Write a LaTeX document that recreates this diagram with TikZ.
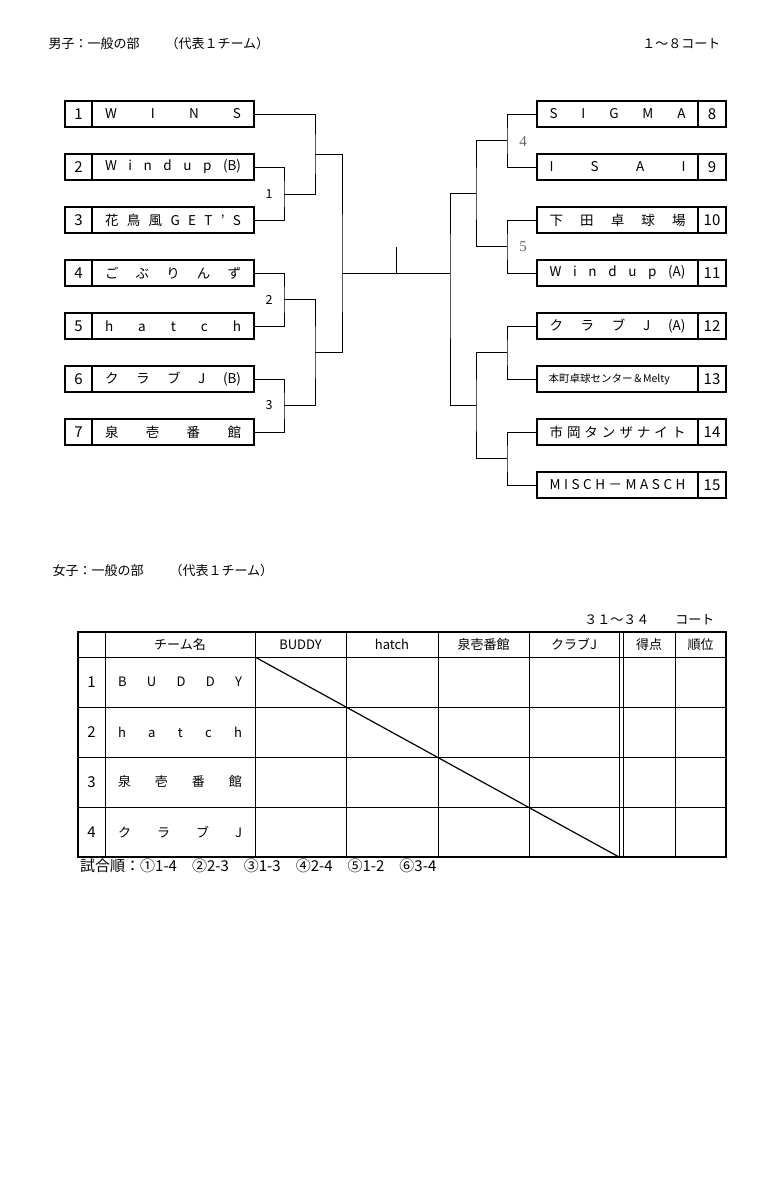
\documentclass[tikz,border=0pt]{standalone}
\usepackage{fontspec}
\setmainfont{Noto Sans CJK JP}
\newfontfamily\serifnum{Liberation Serif}
\newcommand\spr[2][136pt]{\makebox[#1][s]{#2}}
\begin{document}
\begin{tikzpicture}[x=1pt,y=-1pt,
  box/.style={draw,line width=1.2pt,minimum height=26pt,inner sep=0pt,font=\fontsize{13.5}{14}\selectfont},
  num/.style={box,minimum width=27pt,font=\fontsize{15}{15}\selectfont},
  nam/.style={box,minimum width=162pt},
  ln/.style={line width=1pt},
  lab/.style={font=\fontsize{12.5}{12.5}\selectfont},
  gl/.style={text=black!60,font=\serifnum\fontsize{15}{15}\selectfont},
  tl/.style={line width=1pt},
  tx/.style={font=\fontsize{13}{14}\selectfont}]
\useasboundingbox[fill=white] (0,0) rectangle (776,1200);
% titles
\node[tx,anchor=west] (t1) at (45,44) {男子：一般の部　　（代表１チーム）};
\node[tx,anchor=east] (t2) at (724,44) {１～８コート};
\node[tx,anchor=west] (t3) at (49,571) {女子：一般の部　　（代表１チーム）};
% left boxes
\foreach \i/\t [count=\k from 0] in {1/{\spr{W\hfill I\hfill N\hfill S}},2/{\spr{W\hfill i\hfill n\hfill d\hfill u\hfill p\hfill (B)}},3/{\spr{花\hfill 鳥\hfill 風\hfill G\hfill E\hfill T\hfill ’\hfill S}},4/{\spr{ご\hfill ぶ\hfill り\hfill ん\hfill ず}},5/{\spr{h\hfill a\hfill t\hfill c\hfill h}},6/{\spr{ク\hfill ラ\hfill ブ\hfill J\hfill (B)}},7/{\spr{泉\hfill 壱\hfill 番\hfill 館}}}{
  \node[num] (n\i) at (78.5,114+53*\k) {\i};
  \node[nam] (L\i) at (173,114+53*\k) {\t};
}
% right boxes
\foreach \i/\t [count=\k from 0] in {8/{\spr{S\hfill I\hfill G\hfill M\hfill A}},9/{\spr{I\hfill S\hfill A\hfill I}},10/{\spr{下\hfill 田\hfill 卓\hfill 球\hfill 場}},11/{\spr{W\hfill i\hfill n\hfill d\hfill u\hfill p\hfill (A)}},12/{\spr{ク\hfill ラ\hfill ブ\hfill J\hfill (A)}},13/{\makebox[138pt][l]{\fontsize{10.5}{10.5}\selectfont 本町卓球センター＆Melty}},14/{\spr{市\hfill 岡\hfill タ\hfill ン\hfill ザ\hfill ナ\hfill イ\hfill ト}},15/{\spr{M\hfill I\hfill S\hfill C\hfill H\hfill －\hfill M\hfill A\hfill S\hfill C\hfill H}}}{
  \node[nam,minimum width=161pt] (R\i) at (617.5,114+53*\k) {\t};
  \node[num,minimum width=28pt] (m\i) at (712,114+53*\k) {\i};
}
% left bracket
\coordinate (a1) at (284,194); \coordinate (a2) at (284,299.5); \coordinate (a3) at (284,405.5);
\coordinate (b1) at (315,154); \coordinate (b2) at (315,352.5);
\coordinate (cL) at (342,273); \coordinate (cR) at (450,273);
\draw[ln] (L2.east) -| (a1) |- (L3.east);
\draw[ln] (L4.east) -| (a2) |- (L5.east);
\draw[ln] (L6.east) -| (a3) |- (L7.east);
\draw[ln] (L1.east) -| (b1) |- (a1);
\draw[ln] (a2) -| (b2) |- (a3);
\draw[ln] (b1) -| (cL) |- (b2);
\draw[ln] (cL) -- (cR);
\coordinate (tk) at (396,247);
\draw[ln] (tk) -- (tk |- cL);
\node[lab] (l1) at (269,194) {1};
\node[lab] (l2) at (269,299.5) {2};
\node[lab] (l3) at (269,405.5) {3};
% right bracket
\coordinate (d4) at (507,140.5); \coordinate (d5) at (507,246.5);
\coordinate (d6) at (507,352.5); \coordinate (d7) at (507,458.5);
\coordinate (e1) at (476,193.5); \coordinate (e2) at (476,405.5);
\draw[ln] (R8.west) -| (d4) |- (R9.west);
\draw[ln] (R10.west) -| (d5) |- (R11.west);
\draw[ln] (R12.west) -| (d6) |- (R13.west);
\draw[ln] (R14.west) -| (d7) |- (R15.west);
\draw[ln] (d4) -| (e1) |- (d5);
\draw[ln] (d6) -| (e2) |- (d7);
\draw[ln] (e1) -| (cR) |- (e2);
\node[gl] (l4) at (523,141.5) {4};
\node[gl] (l5) at (523,247) {5};
% table
\node[tx,anchor=east] (ct) at (718,620) {３１～３４　　コート};
\def\xa{78}\def\xb{105}\def\xc{255}\def\xd{346}\def\xe{438}\def\xf{529}\def\xg{619}\def\xgg{623}\def\xh{675}\def\xi{726}
\draw[line width=1.2pt] (\xa,632) rectangle (\xi,857);
\foreach \x in {\xb,\xc,\xd,\xe,\xf,\xg,\xgg,\xh}{\draw[tl] (\x,632) -- (\x,857);}
\foreach \y in {657,707,757,807}{\draw[tl] (\xa,\y) -- (\xi,\y);}
\draw[line width=1.2pt] (\xc,657) -- (\xg,857);
\foreach \x/\t in {180/チーム名,300.5/BUDDY,392/hatch,483.5/泉壱番館,574/クラブJ,649/得点,700.5/順位}{
  \node[tx] at (\x,644.5) {\t};}
\foreach \r/\t [count=\k from 0] in {1/{\spr[124pt]{B\hfill U\hfill D\hfill D\hfill Y}},2/{\spr[124pt]{h\hfill a\hfill t\hfill c\hfill h}},3/{\spr[124pt]{泉\hfill 壱\hfill 番\hfill 館}},4/{\spr[124pt]{ク\hfill ラ\hfill ブ\hfill J}}}{
  \node[font=\fontsize{15}{15}\selectfont] (r\r) at (91.5,682+50*\k) {\r};
  \node[tx] (rn\r) at (180,682+50*\k) {\t};
}
\node[font=\fontsize{15}{15}\selectfont,anchor=west,inner sep=0pt] (ord) at (80,866) {試合順：①1-4　②2-3　③1-3　④2-4　⑤1-2　⑥3-4};
\end{tikzpicture}
\end{document}
